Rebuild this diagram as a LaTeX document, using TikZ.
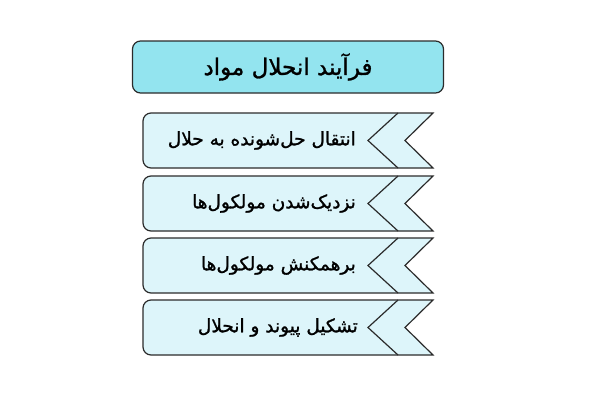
\documentclass[tikz,border=0pt]{standalone}
\usepackage{fontspec}
\usepackage{tikz}
\TeXXeTstate=1
\newfontfamily\farsifont[Script=Arabic,FakeBold=1.2]{DejaVu Sans}
\definecolor{titlefill}{HTML}{93E4EF}
\definecolor{stepfill}{HTML}{DDF5FA}
\definecolor{edgegray}{HTML}{2B2B2B}

\tikzset{
    titlebox/.style={draw=edgegray, line width=1.2pt, fill=titlefill, rounded corners=8pt,
        minimum width=311pt, minimum height=52pt, font=\farsifont\fontsize{23}{27}\selectfont},
    stepshape/.style={draw=edgegray, line width=1.2pt, fill=stepfill, line join=miter},
    stepfold/.style={draw=edgegray, line width=1.2pt, line join=miter},
    steptext/.style={anchor=east, inner sep=0pt, font=\farsifont\fontsize{18.5}{22}\selectfont}
}

\begin{document}
\begin{tikzpicture}[x=1pt,y=-1pt]
    \useasboundingbox (0,0) rectangle (600,400);
    \node[titlebox] (title) at (288,67) {\beginR فرآیند انحلال مواد\endR};
    % step 1
    \draw[stepshape] (250,113) -- (433,113) -- (405,140.5) -- (433,168) -- (250,168)
        [rounded corners=8pt] -- (143,168) -- (143,113) -- (250,113);
    \draw[stepfold] (398,113) -- (368,140.5) -- (398,168);
    \node[steptext] (stepA) at (356,140.5) {\beginR انتقال حل‌شونده به حلال\endR};
    % step 2
    \draw[stepshape] (250,176) -- (433,176) -- (405,203.5) -- (433,231) -- (250,231)
        [rounded corners=8pt] -- (143,231) -- (143,176) -- (250,176);
    \draw[stepfold] (398,176) -- (368,203.5) -- (398,231);
    \node[steptext] (stepB) at (356,203.5) {\beginR نزدیک‌شدن مولکول‌ها\endR};
    % step 3
    \draw[stepshape] (250,238) -- (433,238) -- (405,265.5) -- (433,293) -- (250,293)
        [rounded corners=8pt] -- (143,293) -- (143,238) -- (250,238);
    \draw[stepfold] (398,238) -- (368,265.5) -- (398,293);
    \node[steptext] (stepC) at (356,265.5) {\beginR برهمکنش مولکول‌ها\endR};
    % step 4
    \draw[stepshape] (250,300) -- (433,300) -- (405,327.5) -- (433,355) -- (250,355)
        [rounded corners=8pt] -- (143,355) -- (143,300) -- (250,300);
    \draw[stepfold] (398,300) -- (368,327.5) -- (398,355);
    \node[steptext] (stepD) at (358,327.5) {\beginR تشکیل پیوند و انحلال\endR};
\end{tikzpicture}
\end{document}
